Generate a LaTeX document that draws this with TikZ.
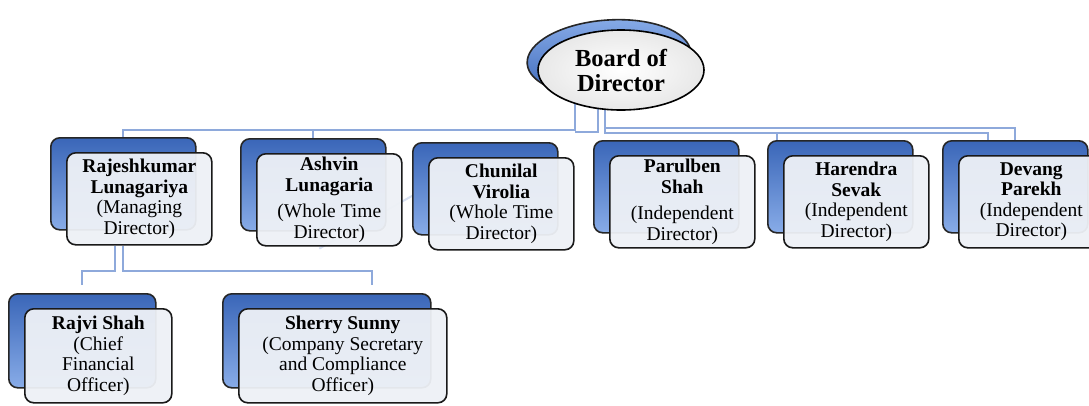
\documentclass[tikz,border=0pt]{standalone}
\usepackage{fontspec}
\setmainfont{Liberation Serif}
\usetikzlibrary{calc,shapes.geometric}
\pgfdeclarelayer{bg}
\pgfsetlayers{bg,main}
\definecolor{conncol}{HTML}{8EA9DB}
\definecolor{bluetop}{HTML}{3A66B8}
\definecolor{bluebot}{HTML}{88ACE8}
\definecolor{frontfill}{HTML}{EEF1F6}
\tikzset{
  conn/.style={draw=conncol, line width=2pt},
  backbox/.style={draw=black!85, line width=1.6pt, rounded corners=9pt,
    top color=bluetop, bottom color=bluebot, anchor=north west, inner sep=0pt},
  frontbox/.style={draw=black!90, line width=1.6pt, rounded corners=9pt,
    fill=frontfill, fill opacity=0.95, text opacity=1, anchor=north west,
    inner sep=0pt, align=center, font=\fontsize{19.5}{20.5}\selectfont},
  backell/.style={ellipse, draw=black!85, line width=1.6pt, inner sep=0pt,
    top color=bluebot, bottom color=bluetop, minimum width=164pt, minimum height=76pt},
  frontell/.style={ellipse, draw=black, line width=1.6pt, inner sep=0pt,
    inner color=white, outer color=black!9, minimum width=166pt, minimum height=80pt,
    align=center, font=\fontsize{24.5}{25}\selectfont\bfseries},
}
\newcommand\pbox[6]{%
  \node[backbox, minimum width=#4pt, minimum height=#5pt] (#1-b) at (#2,#3) {};
  \node[frontbox, minimum width=#4pt, minimum height=#5pt] (#1) at ($(#1-b.north west)+(16,15)$) {#6};
}
\begin{document}
\begin{tikzpicture}[x=1pt,y=-1pt]
\useasboundingbox (0,0) rectangle (1089,405);
% board
\node[backell, rotate=4] (bod-b) at (609,58) {};
\node[frontell] (bod) at (621,70) {Board of\\Director};
% directors
\pbox{raj}{50}{137}{145}{92}{\textbf{Rajeshkumar}\\\textbf{Lunagariya}\\(Managing\\Director)}
\pbox{ash}{240}{138}{145}{92}{\textbf{Ashvin}\\\textbf{Lunagaria}\\[6pt](Whole Time\\Director)}
\pbox{chu}{412}{142}{145}{92}{\textbf{Chunilal}\\\textbf{Virolia}\\(Whole Time\\Director)}
\pbox{par}{593}{140}{145}{92}{\textbf{Parulben}\\\textbf{Shah}\\[6pt](Independent\\Director)}
\pbox{har}{767}{140}{145}{92}{\textbf{Harendra}\\\textbf{Sevak}\\(Independent\\Director)}
\pbox{dev}{942}{140}{145}{92}{\textbf{Devang}\\\textbf{Parekh}\\(Independent\\Director)}
% officers
\pbox{rajvi}{8}{293}{147}{94}{\textbf{Rajvi Shah}\\(Chief\\Financial\\Officer)}
\pbox{sherry}{222}{293}{208}{94}{\textbf{Sherry Sunny}\\(Company Secretary\\and Compliance\\Officer)}
% connectors
\begin{pgfonlayer}{bg}
  \fill[white] (0,0) rectangle (1089,405);
  \coordinate (a1) at (575,100);
  \coordinate (a2) at (598,100);
  \coordinate (a3) at (605,100);
  \coordinate (y130) at (0,130);
  \coordinate (y128) at (0,128);
  \coordinate (bj1) at (598,132);
  \coordinate (bj2) at (575,132);
  \coordinate (c1) at (605,128);
  \coordinate (c2) at (988,133);
  \coordinate (c3) at (988,140);
  \coordinate (t1) at (777,133);
  \coordinate (t2) at (777,140);
  \coordinate (rl) at (115,0);
  \coordinate (rr) at (123,0);
  \draw[conn] (a1) |- (raj-b.north |- y130) -- (raj-b.north);
  \draw[conn] (ash-b.north) -- (ash-b.north |- y130);
  \draw[conn] (a2) -- (bj1) -- (bj2);
  \draw[conn] (a3) |- (dev-b.north |- y128) -- (dev-b.north);
  \draw[conn] (c1) |- (c2) -- (c3);
  \draw[conn] (t1) -- (t2);
  \draw[conn] (raj.south -| rl) -- ++(0,25) -| ($(rajvi-b.north)+(0,-8)$);
  \draw[conn] (raj.south -| rr) -- ++(0,25) -| ($(sherry-b.north)+(45,-8)$);
  \draw[conn, opacity=0.35] ($(ash.south)+(-10,2)$) -- ($(chu-b.west)+(2,6)$);
\end{pgfonlayer}
\end{tikzpicture}
\end{document}
